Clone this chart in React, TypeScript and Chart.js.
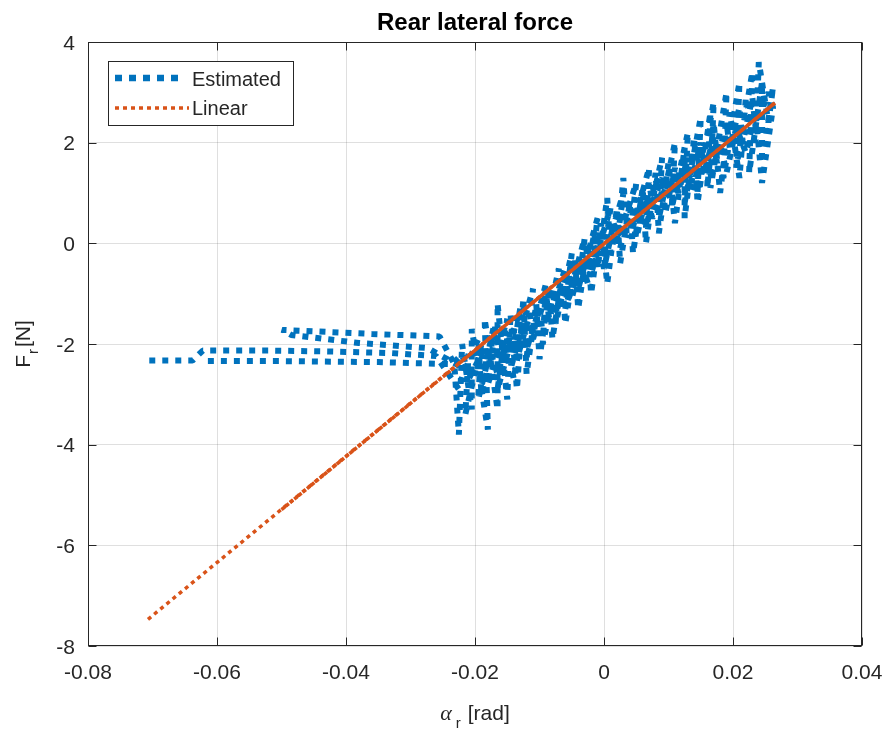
import React, { useEffect, useRef } from "react";
import { Chart, registerables } from "chart.js";

Chart.register(...registerables);

// ---------- data ----------
const xTicks = [-0.08, -0.06, -0.04, -0.02, 0, 0.02, 0.04];
const yTicks = [-8, -6, -4, -2, 0, 2, 4];

const linearX = [-0.0707, 0.0265];
const linearY = [-7.47, 2.79];
const linearMidX = [-0.05, -0.0225];
const linearMidY = [-5.29, -2.39];
const linearDenseX = [-0.0225, 0.0265];
const linearDenseY = [-2.39, 2.79];

// Estimated trajectory, split into consecutive pieces of one path
const tailStart = [
  [-0.0705, -2.33], [-0.0638, -2.33], [-0.0622, -2.13], [-0.052, -2.13],
  [-0.042, -2.15], [-0.033, -2.18], [-0.026, -2.24],
];
const pass1 = [
  [-0.0225, -2.9], [-0.021, -2.2], [-0.0215, -3.4], [-0.019, -2.0], [-0.0195, -3.1],
  [-0.017, -1.8], [-0.018, -2.8], [-0.015, -1.5], [-0.0165, -2.9], [-0.013, -1.3],
  [-0.0145, -2.5], [-0.011, -0.9], [-0.012, -2.3], [-0.009, -0.8], [-0.0095, -2.0],
  [-0.007, -0.5], [-0.0075, -1.6], [-0.005, -0.2], [-0.006, -1.3], [-0.003, 0.1],
  [-0.004, -0.9], [-0.001, 0.5], [-0.002, -0.6], [0.001, 0.7], [0.0, -0.3],
  [0.003, 1.0], [0.002, 0.0], [0.005, 1.2], [0.004, 0.1], [0.007, 1.5],
  [0.0065, 0.3], [0.009, 1.7], [0.0085, 0.5], [0.011, 2.0], [0.0105, 0.7],
  [0.013, 2.2], [0.0125, 0.8], [0.015, 2.5], [0.0145, 1.0], [0.017, 2.8],
  [0.0165, 1.1], [0.019, 3.0], [0.0185, 1.3], [0.021, 3.2], [0.0205, 1.5],
  [0.023, 3.4], [0.0225, 1.4], [0.0245, 3.2], [0.0245, 1.6], [0.0262, 3.1],
];
const pass2 = [
  [0.0255, 2.4], [0.024, 3.6], [0.0235, 2.0], [0.022, 2.9], [0.021, 1.3],
  [0.0195, 2.6], [0.018, 1.0], [0.017, 2.4], [0.016, 1.1], [0.0165, 2.6],
  [0.0145, 0.8], [0.014, 2.1], [0.0125, 0.5], [0.0125, 1.9], [0.011, 0.4],
  [0.01, 1.6], [0.0085, 0.2], [0.008, 1.4], [0.0065, 0.0], [0.006, 1.1],
  [0.0045, -0.2], [0.004, 0.8], [0.0025, -0.4], [0.002, 0.7], [0.0005, -0.8],
  [-0.0005, 0.4], [-0.002, -1.0], [-0.0025, 0.0], [-0.004, -1.3], [-0.0045, -0.3],
  [-0.006, -1.6], [-0.0065, -0.7], [-0.008, -1.9], [-0.0085, -0.9], [-0.01, -2.3],
  [-0.0105, -1.2], [-0.012, -2.6], [-0.0125, -1.1], [-0.0135, -2.9], [-0.0145, -1.4],
  [-0.015, -3.1], [-0.0165, -1.2], [-0.0165, -3.3], [-0.0185, -1.5], [-0.018, -3.7],
  [-0.0205, -1.7], [-0.0205, -3.3], [-0.022, -2.0], [-0.0225, -3.8], [-0.0232, -2.4],
];
const excursion = [
  [-0.0255, -1.85], [-0.036, -1.8], [-0.0499, -1.72], [-0.0485, -1.82],
  [-0.038, -1.98], [-0.0274, -2.08],
];
const pass3 = [
  [-0.0215, -2.5], [-0.0195, -1.9], [-0.019, -3.0], [-0.0175, -2.2], [-0.0165, -2.6],
  [-0.015, -1.9], [-0.014, -2.7], [-0.0125, -1.6], [-0.012, -2.1], [-0.01, -1.3],
  [-0.0095, -1.8], [-0.008, -0.9], [-0.0075, -1.4], [-0.0055, -0.6], [-0.005, -1.1],
  [-0.0035, -0.3], [-0.003, -0.8], [-0.0015, 0.2], [-0.001, -0.5], [0.0005, 0.9],
  [0.001, -0.2], [0.0025, 0.6], [0.003, 1.3], [0.0035, 0.2], [0.005, 0.9],
  [0.0055, 0.4], [0.007, 1.2], [0.0075, 0.8], [0.009, 1.3], [0.0095, 0.6],
  [0.011, 1.5], [0.0115, 1.0], [0.013, 1.7], [0.0135, 1.2], [0.015, 2.0],
  [0.0155, 1.4], [0.017, 2.1], [0.0175, 1.6], [0.019, 2.4], [0.0195, 1.9],
  [0.021, 2.7], [0.0215, 2.0], [0.023, 2.9], [0.0235, 2.3], [0.0255, 3.0],
  [0.0262, 2.7],
];
const pass4 = [
  [0.0245, 1.2], [0.0235, 2.6], [0.022, 1.8], [0.0205, 2.3], [0.019, 1.4],
  [0.018, 2.0], [0.0165, 1.3], [0.0155, 1.9], [0.0135, 1.0], [0.0125, 1.5],
  [0.0105, 0.8], [0.0095, 1.2], [0.0075, 0.5], [0.0065, 0.9], [0.005, 0.1],
  [0.004, 0.7], [0.0025, -0.1], [0.0015, 0.4], [0.0, -0.5], [-0.001, 0.1],
  [-0.0025, -0.8], [-0.0035, -0.4], [-0.0055, -1.1], [-0.006, -0.5], [-0.0085, -1.5],
  [-0.009, -1.0], [-0.011, -1.9], [-0.0115, -1.4], [-0.0135, -2.3], [-0.014, -1.7],
  [-0.016, -2.3], [-0.017, -1.6], [-0.0185, -2.5], [-0.019, -2.2], [-0.021, -2.7],
  [-0.022, -2.2],
];
const tailEnd = [
  [-0.0235, -2.4], [-0.035, -2.36], [-0.05, -2.34], [-0.0625, -2.34],
];

// ---------- styles ----------
const BLUE = "#0072BD";
const ORANGE = "#D95319";
const AXIS = "#262626";
const SANS = "'Liberation Sans', Arial, Helvetica, sans-serif";

const toXY = (xs: number[], ys: number[]) => xs.map((x, i) => ({ x, y: ys[i] }));
const pairsToXY = (pts: number[][]) => pts.map(([x, y]) => ({ x, y }));

const matlabPlugin = {
  id: "matlabDecor",
  afterDraw(chart: any) {
    const { ctx, chartArea: a, scales } = chart;
    const L = Math.round(a.left) + 0.5;
    const R = Math.round(a.right) - 0.5;
    const T = Math.round(a.top) + 0.5;
    const B = Math.round(a.bottom) - 0.5;
    ctx.save();
    // box
    ctx.strokeStyle = AXIS;
    ctx.lineWidth = 1;
    ctx.setLineDash([]);
    ctx.strokeRect(L, T, R - L, B - T);
    // inward ticks
    const tl = 8;
    ctx.beginPath();
    xTicks.forEach((v) => {
      const px = Math.round(scales.x.getPixelForValue(v)) + 0.5;
      ctx.moveTo(px, B); ctx.lineTo(px, B - tl);
      ctx.moveTo(px, T); ctx.lineTo(px, T + tl);
    });
    yTicks.forEach((v) => {
      const py = Math.round(scales.y.getPixelForValue(v)) + 0.5;
      ctx.moveTo(L, py); ctx.lineTo(L + tl, py);
      ctx.moveTo(R, py); ctx.lineTo(R - tl, py);
    });
    ctx.stroke();

    // legend
    const lx = 108, ly = 61, lw = 185, lh = 64;
    ctx.fillStyle = "#ffffff";
    ctx.fillRect(lx, ly, lw, lh);
    ctx.strokeStyle = AXIS;
    ctx.lineWidth = 1;
    ctx.strokeRect(lx + 0.5, ly + 0.5, lw, lh);
    ctx.lineCap = "butt";
    ctx.strokeStyle = BLUE;
    ctx.lineWidth = 6.5;
    ctx.setLineDash([7, 7]);
    ctx.beginPath(); ctx.moveTo(115, 78); ctx.lineTo(185, 78); ctx.stroke();
    ctx.strokeStyle = ORANGE;
    ctx.lineWidth = 3.5;
    ctx.setLineDash([4, 4]);
    ctx.beginPath(); ctx.moveTo(115, 108); ctx.lineTo(189, 108); ctx.stroke();
    ctx.setLineDash([]);
    ctx.fillStyle = AXIS;
    ctx.font = `20px ${SANS}`;
    ctx.textAlign = "left";
    ctx.textBaseline = "alphabetic";
    ctx.fillText("Estimated", 192, 86);
    ctx.fillText("Linear", 192, 115);

    // title
    ctx.fillStyle = "#000000";
    ctx.font = `bold 24px ${SANS}`;
    ctx.textAlign = "center";
    ctx.fillText("Rear lateral force", (a.left + a.right) / 2, 30);

    // x label: alpha_r[rad]
    ctx.fillStyle = AXIS;
    ctx.textAlign = "left";
    const fAlpha = `italic 22px 'Liberation Serif', 'DejaVu Serif', serif`;
    const fMain = `21px ${SANS}`;
    const fSub = `15px ${SANS}`;
    ctx.font = fAlpha; const wA = ctx.measureText("α").width;
    ctx.font = fSub; const wR = ctx.measureText("r").width;
    ctx.font = fMain; const wRad = ctx.measureText("[rad]").width;
    const gap1 = 4, gap2 = 7;
    const total = wA + gap1 + wR + gap2 + wRad;
    let cx = (a.left + a.right) / 2 - total / 2;
    const base = 720;
    ctx.font = fAlpha; ctx.fillText("α", cx, base); cx += wA + gap1;
    ctx.font = fSub; ctx.fillText("r", cx, base + 8); cx += wR + gap2;
    ctx.font = fMain; ctx.fillText("[rad]", cx, base);

    // y label: F_r[N]
    ctx.save();
    ctx.translate(30, (a.top + a.bottom) / 2);
    ctx.rotate(-Math.PI / 2);
    ctx.font = fMain; const wF = ctx.measureText("F").width;
    ctx.font = fSub; const wr2 = ctx.measureText("r").width;
    ctx.font = fMain; const wN = ctx.measureText("[N]").width;
    const tot2 = wF + 1 + wr2 + 2 + wN;
    let cy = -tot2 / 2;
    ctx.font = fMain; ctx.fillText("F", cy, 0); cy += wF + 1;
    ctx.font = fSub; ctx.fillText("r", cy, 8); cy += wr2 + 2;
    ctx.font = fMain; ctx.fillText("[N]", cy, 0);
    ctx.restore();

    ctx.restore();
  },
};

export default function App() {
  const ref = useRef<HTMLCanvasElement | null>(null);

  useEffect(() => {
    if (!ref.current) return;
    const estimated = [
      ...tailStart, ...pass1, ...pass2, ...excursion, ...pass3, ...pass4, ...tailEnd,
    ];
    const chart = new Chart(ref.current, {
      type: "scatter",
      data: {
        datasets: [
          {
            label: "Linear",
            data: toXY(linearDenseX, linearDenseY),
            showLine: true,
            borderColor: ORANGE,
            borderWidth: 3.5,
            pointRadius: 0,
            borderCapStyle: "butt",
          },
          {
            label: "Linear",
            data: toXY(linearMidX, linearMidY),
            showLine: true,
            borderColor: ORANGE,
            borderWidth: 3.5,
            borderDash: [4, 1.5],
            pointRadius: 0,
          },
          {
            label: "Linear",
            data: toXY(linearX, linearY),
            showLine: true,
            borderColor: ORANGE,
            borderWidth: 3.5,
            borderDash: [4, 4],
            pointRadius: 0,
          },
          {
            label: "Estimated",
            data: pairsToXY(estimated),
            showLine: true,
            borderColor: BLUE,
            borderWidth: 6,
            borderDash: [6, 7],
            pointRadius: 0,
            borderCapStyle: "butt",
            borderJoinStyle: "bevel",
          },
        ],
      },
      options: {
        animation: false,
        responsive: false,
        maintainAspectRatio: false,
        layout: { padding: { top: 42, right: 28, left: 0, bottom: 0 } },
        plugins: {
          legend: { display: false },
          title: { display: false },
          tooltip: { enabled: false },
        },
        scales: {
          x: {
            type: "linear",
            min: -0.08,
            max: 0.04,
            afterFit: (s: any) => { s.height = 85; s.paddingLeft = 0; s.paddingRight = 0; },
            afterBuildTicks: (s: any) => { s.ticks = xTicks.map((v) => ({ value: v })); },
            ticks: {
              padding: 15,
              color: AXIS,
              font: { family: SANS, size: 21 },
              maxRotation: 0,
              callback: (v: any) => String(Number(Number(v).toFixed(2))),
            },
            grid: { color: "rgba(38,38,38,0.15)", drawTicks: false, lineWidth: 1 },
            border: { display: false },
          },
          y: {
            type: "linear",
            min: -8,
            max: 4,
            afterFit: (s: any) => { s.width = 88; s.paddingTop = 0; s.paddingBottom = 0; },
            afterBuildTicks: (s: any) => { s.ticks = yTicks.map((v) => ({ value: v })); },
            ticks: {
              padding: 13,
              color: AXIS,
              labelOffset: 2,
              font: { family: SANS, size: 21 },
              callback: (v: any) => String(Number(v)),
            },
            grid: { color: "rgba(38,38,38,0.15)", drawTicks: false, lineWidth: 1 },
            border: { display: false },
          },
        },
      },
      plugins: [matlabPlugin],
    } as any);
    return () => chart.destroy();
  }, []);

  return (
    <div style={{ position: "fixed", left: 0, top: 0, width: 890, height: 731, background: "#ffffff" }}>
      <canvas ref={ref} width={890} height={731} style={{ display: "block" }} />
    </div>
  );
}
